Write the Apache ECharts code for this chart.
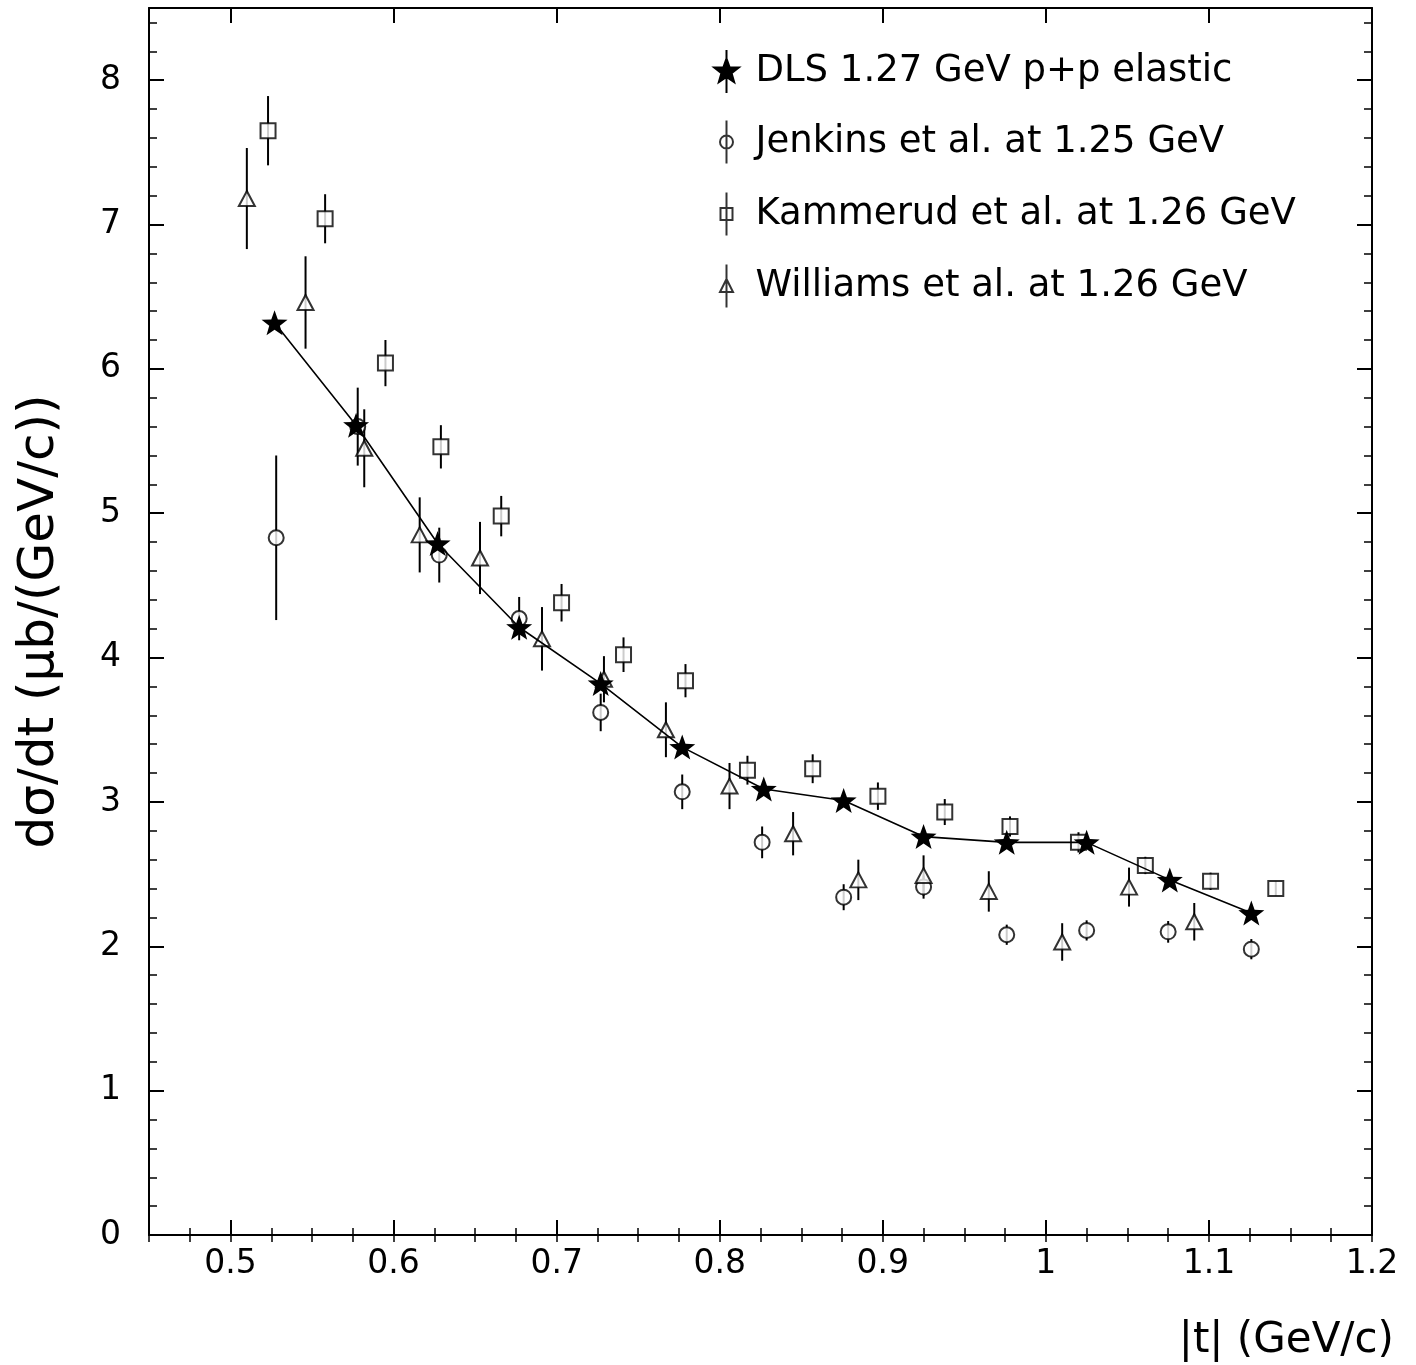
<!DOCTYPE html>
<html>
<head>
<meta charset="utf-8">
<script src="https://cdn.jsdelivr.net/npm/echarts@6/dist/echarts.min.js"></script>
<style>
  html, body { margin: 0; padding: 0; background: #fff; }
  #chart { width: 1416px; height: 1365px; }
</style>
</head>
<body>
<div id="chart"></div>
<script>
// |t| in (GeV/c), dsigma/dt in mub/(GeV/c)
const dlsT = [0.527, 0.577, 0.627, 0.677, 0.727, 0.777, 0.827, 0.876, 0.925, 0.976, 1.025, 1.076, 1.126];
const dlsSigma = [6.32, 5.61, 4.79, 4.21, 3.82, 3.38, 3.09, 3.01, 2.76, 2.72, 2.72, 2.46, 2.23];

const jenkinsT = [0.528, 0.578, 0.628, 0.677, 0.727, 0.777, 0.826, 0.876, 0.925, 0.976, 1.025, 1.075, 1.126];
const jenkinsSigma = [4.83, 5.60, 4.71, 4.27, 3.62, 3.07, 2.72, 2.34, 2.41, 2.08, 2.11, 2.10, 1.98];
const jenkinsErr = [0.57, 0.27, 0.19, 0.15, 0.13, 0.12, 0.11, 0.09, 0.08, 0.07, 0.07, 0.075, 0.07];

const kammerudT = [0.523, 0.558, 0.595, 0.629, 0.666, 0.703, 0.741, 0.779, 0.817, 0.857, 0.897, 0.938, 0.978, 1.020, 1.061, 1.101, 1.141];
const kammerudSigma = [7.65, 7.04, 6.04, 5.46, 4.98, 4.38, 4.02, 3.84, 3.22, 3.23, 3.04, 2.93, 2.83, 2.72, 2.56, 2.45, 2.40];
const kammerudErr = [0.24, 0.17, 0.16, 0.15, 0.14, 0.13, 0.12, 0.115, 0.10, 0.10, 0.095, 0.09, 0.07, 0.07, 0.06, 0.06, 0.05];

const williamsT = [0.510, 0.546, 0.582, 0.616, 0.653, 0.691, 0.729, 0.767, 0.806, 0.845, 0.885, 0.925, 0.965, 1.010, 1.051, 1.091];
const williamsSigma = [7.18, 6.46, 5.45, 4.85, 4.69, 4.13, 3.85, 3.50, 3.11, 2.78, 2.46, 2.49, 2.38, 2.03, 2.41, 2.17];
const williamsErr = [0.35, 0.32, 0.27, 0.26, 0.25, 0.22, 0.16, 0.19, 0.16, 0.15, 0.14, 0.14, 0.14, 0.13, 0.135, 0.13];

// labelled ticks on the |t| axis
const xTickValues = [0.5, 0.6, 0.7, 0.8, 0.9, 1.0, 1.1, 1.2];

const seriesNames = [
  'DLS 1.27 GeV p+p elastic',
  'Jenkins et al. at 1.25 GeV',
  'Kammerud et al. at 1.26 GeV',
  'Williams et al. at 1.26 GeV'
];

const FONT = 'DejaVu Sans';

// five-pointed star outline as an SVG path
function starPath(R, r, cx, cy) {
  let d = '';
  for (let i = 0; i < 10; i++) {
    const a = (-90 + i * 36) * Math.PI / 180;
    const rad = i % 2 ? r : R;
    d += (i ? 'L' : 'M') + (cx + rad * Math.cos(a)).toFixed(3) + ',' + (cy + rad * Math.sin(a)).toFixed(3) + ' ';
  }
  return d + 'Z';
}

const starSymbol = 'path://' + starPath(10, 4.1, 0, 0);

// legend icons: marker with a vertical bar through it; the leading moves fix the icon box
const box = 'M-24,-21.5 M24,21.5 ';
const bar = 'M0,-21.5 L0,21.5 ';
const iconStar = 'path://' + box + bar + starPath(13, 5.3, 0, 0);
const iconCircle = 'path://' + box + bar + 'M6.5,0 A6.5,6.5 0 1 1 -6.5,0 A6.5,6.5 0 1 1 6.5,0 Z';
const iconSquare = 'path://' + box + bar + 'M-6,-6 L6,-6 L6,6 L-6,6 Z';
const iconTriangle = 'path://' + box + bar + 'M0,-7 L6.5,6 L-6.5,6 Z';

function zip(xs, ys, es) {
  return xs.map((x, i) => es ? [x, ys[i], es[i]] : [x, ys[i]]);
}

function errorBarSeries(id, xs, ys, es) {
  return {
    id: id,
    type: 'custom',
    silent: true,
    z: 2,
    encode: { x: 0, y: 1 },
    data: zip(xs, ys, es),
    renderItem: function (params, api) {
      const x = api.value(0), y = api.value(1), e = api.value(2);
      const p1 = api.coord([x, y + e]);
      const p2 = api.coord([x, y - e]);
      return {
        type: 'line',
        shape: { x1: p1[0], y1: p1[1], x2: p2[0], y2: p2[1] },
        style: { stroke: '#000', lineWidth: 2 }
      };
    }
  };
}

const openMarker = { color: '#fff', borderColor: '#000', borderWidth: 2 };

const axisLineStyle = { show: true, onZero: false, lineStyle: { color: '#000', width: 2 } };

// major ticks sit on the tenths; minor ticks every 0.025
function xAxisDef(position, major, withLine, withLabels) {
  const axis = {
    type: 'value', position: position, min: 0.45, max: 1.2,
    axisLine: withLine ? axisLineStyle : { show: false },
    splitLine: { show: false }
  };
  if (major) {
    axis.interval = 0.05;
    axis.axisTick = {
      show: true, inside: true, length: 15, customValues: xTickValues,
      lineStyle: { color: '#000', width: 2 }
    };
    axis.axisLabel = withLabels ? {
      show: true, customValues: xTickValues, margin: 13, color: '#000',
      fontFamily: FONT, fontSize: 33
    } : { show: false };
  } else {
    axis.interval = 0.025;
    axis.axisTick = { show: true, inside: true, length: 7, lineStyle: { color: '#000', width: 1.5 } };
    axis.axisLabel = { show: false };
  }
  return axis;
}

function yAxisDef(position, interval, tickLen, tickWidth, withLine, withLabels) {
  return {
    type: 'value', position: position, min: 0, max: 8.5, interval: interval,
    axisLine: withLine ? axisLineStyle : { show: false },
    axisTick: { show: true, inside: true, length: tickLen, lineStyle: { color: '#000', width: tickWidth } },
    axisLabel: withLabels ? {
      show: true, showMaxLabel: false, margin: 28, color: '#000',
      fontFamily: FONT, fontSize: 33
    } : { show: false },
    splitLine: { show: false }
  };
}

const xMain = xAxisDef('bottom', true, true, true);
xMain.name = '|t| (GeV/c)';
xMain.nameLocation = 'end';
xMain.nameGap = 22;
xMain.nameTextStyle = {
  fontFamily: FONT, fontSize: 42, color: '#000',
  align: 'right', verticalAlign: 'top', padding: [85, 0, 0, 0]
};

const yMain = yAxisDef('left', 1, 15, 2, true, true);
yMain.name = 'dσ/dt (μb/(GeV/c))';
yMain.nameLocation = 'middle';
yMain.nameGap = 84;
yMain.nameRotate = 90;
yMain.nameTextStyle = { fontFamily: FONT, fontSize: 50, color: '#000' };

const option = {
  animation: false,
  backgroundColor: '#fff',
  grid: { left: 149, right: 44, top: 8, bottom: 130, containLabel: false },
  xAxis: [
    xMain,
    xAxisDef('bottom', false, false, false),
    xAxisDef('top', true, true, false),
    xAxisDef('top', false, false, false)
  ],
  yAxis: [
    yMain,
    yAxisDef('left', 0.2, 8, 1.5, false, false),
    yAxisDef('right', 1, 15, 2, true, false),
    yAxisDef('right', 0.2, 8, 1.5, false, false)
  ],
  legend: {
    orient: 'vertical',
    left: 695, top: 44,
    itemWidth: 48, itemHeight: 43, itemGap: 24,
    selectedMode: false,
    textStyle: { fontFamily: FONT, fontSize: 37, lineHeight: 43, color: '#000' },
    data: [
      { name: seriesNames[0], icon: iconStar, itemStyle: { color: '#000', borderColor: '#000', borderWidth: 2 } },
      { name: seriesNames[1], icon: iconCircle, itemStyle: { color: 'none', borderColor: '#000', borderWidth: 2 } },
      { name: seriesNames[2], icon: iconSquare, itemStyle: { color: 'none', borderColor: '#000', borderWidth: 2 } },
      { name: seriesNames[3], icon: iconTriangle, itemStyle: { color: 'none', borderColor: '#000', borderWidth: 2 } }
    ]
  },
  series: [
    errorBarSeries('jenkinsBars', jenkinsT, jenkinsSigma, jenkinsErr),
    errorBarSeries('kammerudBars', kammerudT, kammerudSigma, kammerudErr),
    errorBarSeries('williamsBars', williamsT, williamsSigma, williamsErr),
    {
      name: seriesNames[1], type: 'scatter', z: 3,
      symbol: 'circle', symbolSize: 15,
      itemStyle: openMarker,
      data: zip(jenkinsT, jenkinsSigma)
    },
    {
      name: seriesNames[2], type: 'scatter', z: 3,
      symbol: 'rect', symbolSize: 15,
      itemStyle: openMarker,
      data: zip(kammerudT, kammerudSigma)
    },
    {
      name: seriesNames[3], type: 'scatter', z: 3,
      symbol: 'triangle', symbolSize: [16, 15],
      itemStyle: openMarker,
      data: zip(williamsT, williamsSigma)
    },
    {
      name: seriesNames[0], type: 'line', z: 5,
      symbol: starSymbol, symbolSize: [26, 25],
      showAllSymbol: true,
      lineStyle: { color: '#000', width: 1.6 },
      itemStyle: { color: '#000', borderWidth: 0 },
      data: zip(dlsT, dlsSigma)
    }
  ]
};

const chart = echarts.init(document.getElementById('chart'), null, { renderer: 'canvas' });
chart.setOption(option);
</script>
</body>
</html>
